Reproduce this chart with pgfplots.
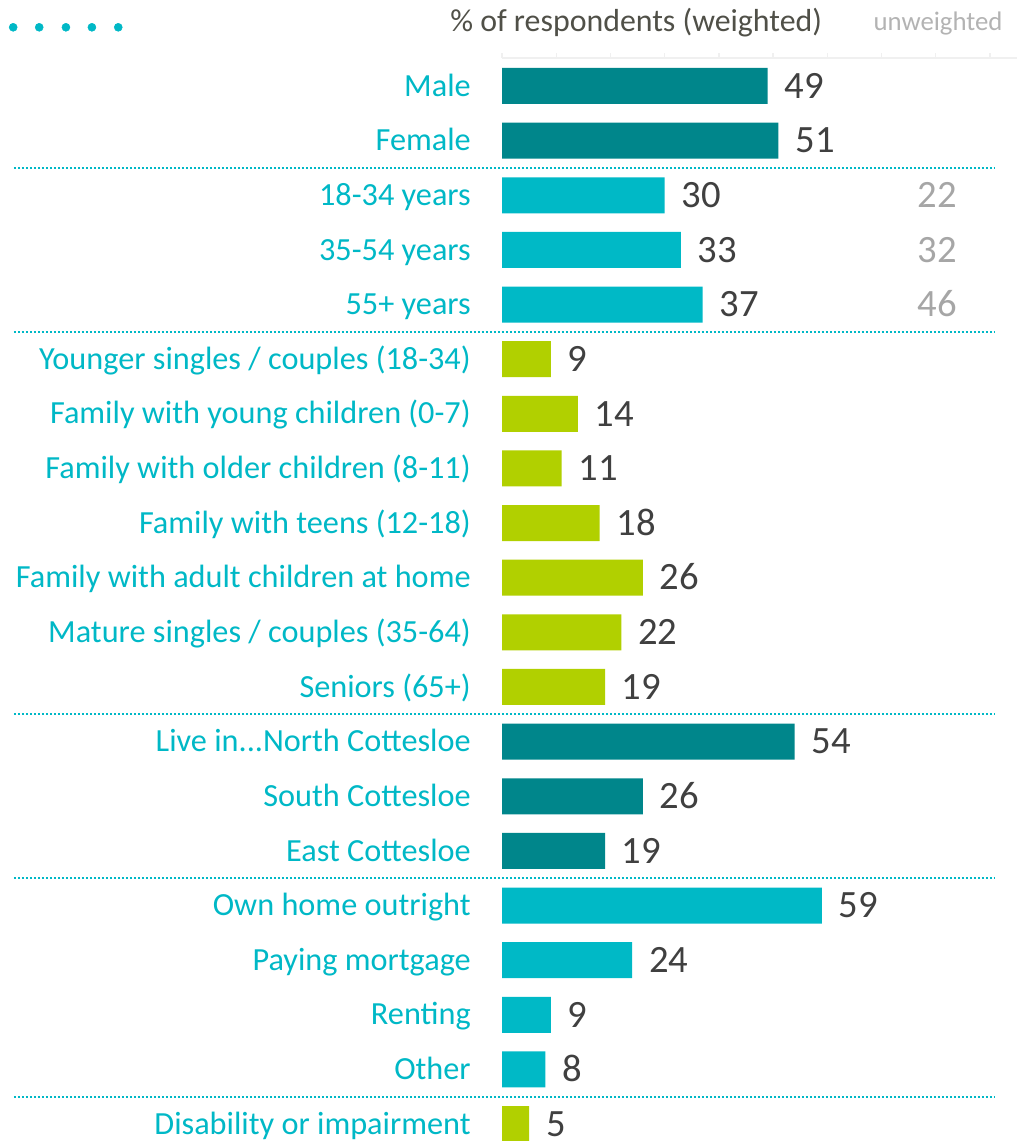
\documentclass[border=0pt]{standalone}
\usepackage{pgfplots}
\pgfplotsset{compat=1.18}
\usepackage{fontspec}
\setmainfont{Carlito}
\definecolor{darkteal}{RGB}{0,134,139}
\definecolor{cyanbar}{RGB}{0,185,198}
\definecolor{limebar}{RGB}{177,208,0}
\definecolor{labelcol}{RGB}{0,184,198}
\definecolor{valcol}{RGB}{64,64,64}
\definecolor{unwcol}{RGB}{166,166,166}
\definecolor{headcol}{RGB}{80,80,72}
\newcommand{\threedots}{...}
\begin{document}
\begin{tikzpicture}
\begin{axis}[
  at={(376.5pt,0pt)}, anchor=south west,
  width=386.25pt, height=812.25pt, scale only axis,
  xmin=0, xmax=95.0,
  ymin=-0.5125, ymax=19.31, y dir=reverse,
  clip=false,
  hide x axis,
  y axis line style={draw=none},
  ytick={0,1,2,3,4,5,6,7,8,9,10,11,12,13,14,15,16,17,18,19},
  major tick length=0pt,
  yticklabels={Male,Female,18-34 years,35-54 years,55+ years,Younger singles / couples (18-34),Family with young children (0-7),Family with older children (8-11),Family with teens (12-18),Family with adult children at home,Mature singles / couples (35-64),Seniors (65+),Live in\threedots North Cottesloe,South Cottesloe,East Cottesloe,Own home outright,Paying mortgage,Renting,Other,Disability or impairment},
  yticklabel style={anchor=base east, inner sep=0pt, xshift=-23.25pt, yshift=-7.6pt, text=labelcol, font=\fontsize{24.2}{24.2}\selectfont},
  /pgf/number format/assume math mode=true,
]
% faint top scale line
\addplot[gray!12, line width=1pt, unbounded coords=jump] coordinates {
 (0,-0.5125)(95,-0.5125)(95,nan)
 (0,-0.5125)(0,-0.61)(0,nan)
 (10,-0.5125)(10,-0.61)(10,nan)
 (20,-0.5125)(20,-0.61)(20,nan)
 (30,-0.5125)(30,-0.61)(30,nan)
 (40,-0.5125)(40,-0.61)(40,nan)
 (50,-0.5125)(50,-0.61)(50,nan)
 (60,-0.5125)(60,-0.61)(60,nan)
 (70,-0.5125)(70,-0.61)(70,nan)
 (80,-0.5125)(80,-0.61)(80,nan)
 (90,-0.5125)(90,-0.61)};
% bars
\pgfplotsset{valnodes/.style={point meta=x, nodes near coords, nodes near coords style={anchor=base west, inner sep=0pt, xshift=12.5pt, yshift=-9.2pt, text=valcol, font=\fontsize{29}{29}\selectfont}}}
\addplot[xbar, bar width=27pt, fill=darkteal, draw=none, valnodes] coordinates {(49,0)(51,1)(54,12)(26,13)(19,14)};
\addplot[xbar, bar width=27pt, fill=cyanbar, draw=none, valnodes] coordinates {(30,2)(33,3)(37,4)(59,15)(24,16)(9,17)(8,18)};
\addplot[xbar, bar width=27pt, fill=limebar, draw=none, valnodes] coordinates {(9,5)(14,6)(11,7)(18,8)(26,9)(22,10)(19,11)(5,19)};
% unweighted values
\addplot[draw=none, mark=none, point meta=explicit symbolic, nodes near coords,
  nodes near coords style={anchor=base east, inner sep=0pt, yshift=-9.2pt, text=unwcol, font=\fontsize{29}{29}\selectfont}]
  coordinates {(84.0,2)[22] (84.0,3)[32] (84.0,4)[46]};
% separators
\addplot[labelcol, line width=1.7pt, dash pattern=on 1.5pt off 1.5pt, unbounded coords=jump] coordinates {
 (-90.04,1.5)(90.77,1.5)(90.77,nan)
 (-90.04,4.5)(90.77,4.5)(90.77,nan)
 (-90.04,11.5)(90.77,11.5)(90.77,nan)
 (-90.04,14.5)(90.77,14.5)(90.77,nan)
 (-90.04,18.5)(90.77,18.5)};
% decorative dots
\addplot[only marks, color=labelcol, mark=*, mark size=3pt, mark options={solid, draw=labelcol, fill=labelcol}] coordinates {(-90.17,-1.0745)(-85.37,-1.0745)(-80.44,-1.0745)(-75.65,-1.0745)(-70.79,-1.0745)};
% header
\node[anchor=base west, inner sep=0pt, text=headcol, font=\fontsize{23.9}{23.9}\selectfont] at (axis cs:-9.59,-0.9885) {\% of respondents (weighted)};
\node[anchor=base west, inner sep=0pt, text=unwcol!85, font=\fontsize{20.1}{20.1}\selectfont] at (axis cs:68.5,-1.01) {unweighted};
\end{axis}
\pgfresetboundingbox
\path[use as bounding box] (0,0) rectangle (762.75pt,855.75pt);
\end{tikzpicture}
\end{document}
